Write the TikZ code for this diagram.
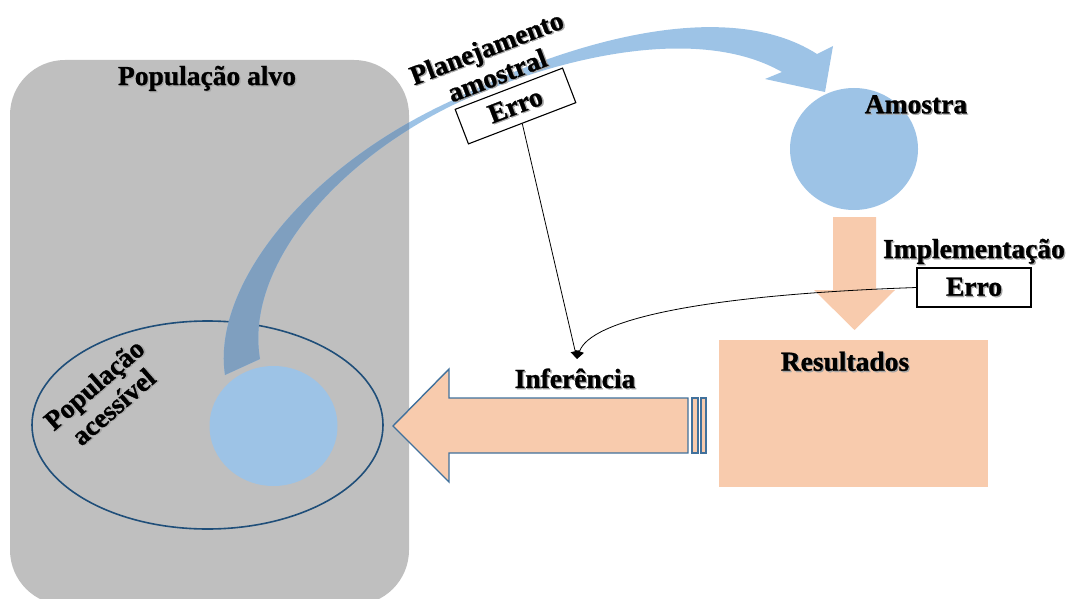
\documentclass[tikz,border=0pt]{standalone}
\usepackage{fontspec}
\setmainfont{Liberation Serif}[BoldFeatures={FakeBold=1}]
\usetikzlibrary{arrows.meta}
\definecolor{grayfill}{HTML}{BFBFBF}
\definecolor{lblue}{HTML}{9DC3E6}
\definecolor{dblue}{HTML}{7F9FBF}
\definecolor{peach}{HTML}{F8CBAD}
\definecolor{navy}{HTML}{1F4E79}
\definecolor{edgeblue}{HTML}{41719C}
\newcommand\shd[1]{\rlap{\kern1.3pt\raisebox{-1.3pt}{\textcolor{black!35}{#1}}}#1}
\begin{document}
\begin{tikzpicture}[x=1pt,y=-1pt,
  lbl/.style={font=\fontsize{27.5}{29.5}\selectfont\bfseries, inner sep=0pt, align=center},
  errbox/.style={draw=black, line width=1.1pt, fill=white, minimum width=115pt, minimum height=37pt, inner sep=0pt, font=\fontsize{27.5}{29}\selectfont\bfseries},
  conn/.style={line width=0.8pt, -{Triangle[length=8pt,width=9pt]}},
  peachshape/.style={fill=peach},
]
\useasboundingbox (0,0) rectangle (1070,599);
% target population
\fill[grayfill, rounded corners=55pt] (10,60) rectangle (409,605);
% accessible population ellipse
\draw[navy, line width=1.6pt] (207.5,425) ellipse [x radius=175.5, y radius=104];
% curved arrow
\fill[lblue] (225,375) .. controls (212,290) and (300,170) .. (453,100)
  .. controls (550,50) and (720,-8) .. (817,54) -- (833,46) -- (825,92) -- (765,79) -- (782,72)
  .. controls (700,25) and (560,55) .. (453,105)
  .. controls (330,165) and (245,270) .. (260,359) -- cycle;
\begin{scope}
\clip[rounded corners=55pt] (10,60) rectangle (409,605);
\fill[dblue] (225,375) .. controls (212,290) and (300,170) .. (453,100)
  .. controls (550,50) and (720,-8) .. (817,54) -- (833,46) -- (825,92) -- (765,79) -- (782,72)
  .. controls (700,25) and (560,55) .. (453,105)
  .. controls (330,165) and (245,270) .. (260,359) -- cycle;
\end{scope}
% circles
\fill[lblue] (273.5,426) ellipse [x radius=64, y radius=60];
\fill[lblue] (854,149) ellipse [x radius=64, y radius=61];
% implementation arrow
\fill[peach] (833,217) -- (876,217) -- (876,290) -- (895,290) -- (854.5,330) -- (814,290) -- (833,290) -- cycle;
% results
\fill[peach] (719,340) rectangle (988,487);
% inference arrow
\filldraw[peachshape, draw=edgeblue, line width=1.4pt, line join=miter]
  (688,398) -- (449,398) -- (449,369) -- (393,426) -- (449,482) -- (449,453) -- (688,453) -- cycle;
\filldraw[peachshape, draw=edgeblue, line width=1.4pt] (692,398) rectangle (698,453);
\filldraw[peachshape, draw=edgeblue, line width=1.4pt] (701,398) rectangle (706,453);
% labels
\node[lbl] (palvo) at (207,79) {\shd{População alvo}};
\node[lbl, rotate=41] (pacess) at (104,396) {\shd{População}\\\shd{acessível}};
\node[lbl, rotate=21] (plan) at (492,62) {\shd{Planejamento}\\\shd{amostral}};
\node[errbox, rotate=21] (erro1) at (515.5,106) {\shd{Erro}};
\node[lbl] (amostra) at (916,105) {\shd{Amostra}};
\node[lbl] (impl) at (974,252) {\shd{Implementação}};
\node[errbox, minimum width=114pt, minimum height=39pt] (erro2) at (974,287.5) {\shd{Erro}};
\node[lbl] (result) at (845,362) {\shd{Resultados}};
\node[lbl] (infer) at (575,379) {\shd{Inferência}};
% connectors
\coordinate (inf) at (577,359);
\draw[conn] (erro1.south) -- (inf);
\draw[conn] (erro2.west) .. controls (700,295) and (590,320) .. (inf);
\end{tikzpicture}
\end{document}
